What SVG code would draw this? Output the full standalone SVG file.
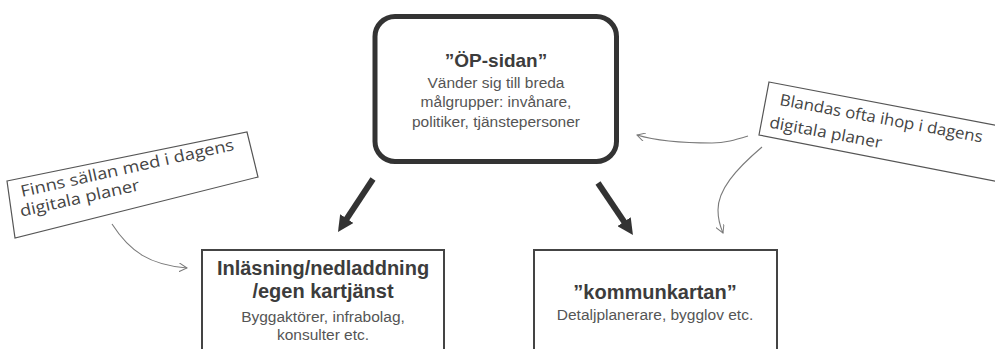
<svg xmlns="http://www.w3.org/2000/svg" width="995" height="349" viewBox="0 0 995 349">
<defs>
<style>
.box{fill:#fff;stroke:#444;stroke-width:2}
.main{fill:#fff;stroke:#333;stroke-width:5}
.note{fill:#fff;stroke:#555;stroke-width:1.2}
.t{font-family:"Liberation Sans",Arial,sans-serif;text-anchor:middle}
.title{font-weight:bold;fill:#3c3c3c}
.body{fill:#555}
.hand{font-family:"Open Sans","DejaVu Sans",sans-serif;font-size:16px;fill:#444}
.thick{stroke:#333;stroke-width:6;fill:none}
.thin{stroke:#7a7a7a;stroke-width:1.1;fill:none}
</style>
<marker id="bigHead" viewBox="0 0 16 16" markerWidth="16" markerHeight="16" markerUnits="userSpaceOnUse" refX="6" refY="8" orient="auto">
<path d="M0,0 L16,8 L0,16 z" fill="#333"/>
</marker>
<marker id="openHead" viewBox="0 0 10 10" markerWidth="9" markerHeight="9" markerUnits="userSpaceOnUse" refX="9" refY="5" orient="auto">
<path d="M0,0 L9,5 L0,10" fill="none" stroke="#7a7a7a" stroke-width="1.1"/>
</marker>
</defs>
<rect width="995" height="349" fill="#fff"/>

<g id="connectors">
<line class="thick" x1="373" y1="179" x2="343.5" y2="223.6" marker-end="url(#bigHead)"/>
<line class="thick" x1="598" y1="183" x2="627.4" y2="226.7" marker-end="url(#bigHead)"/>
<path class="thin" d="M112,224 C130,252 150,265 187,268" marker-end="url(#openHead)"/>
<path class="thin" d="M748,136 C735,140 725,143 712,143 C690,143 660,142 637,135" marker-end="url(#openHead)"/>
<path class="thin" d="M762,147 C735,170 718,190 718,210 C718,220 720,226 723,233" marker-end="url(#openHead)"/>
</g>

<g id="node-op">
<rect class="main" x="375" y="16.5" width="241.5" height="145" rx="20"/>
<text class="t title" x="496" y="67" font-size="19">”ÖP-sidan”</text>
<text class="t body" x="496" y="88" font-size="15.5">Vänder sig till breda</text>
<text class="t body" x="496" y="107" font-size="15.5">målgrupper: invånare,</text>
<text class="t body" x="496" y="127" font-size="15.5">politiker, tjänstepersoner</text>
</g>

<g id="node-inlasning">
<rect class="box" x="202" y="250" width="242" height="130"/>
<text class="t title" x="323" y="275" font-size="20">Inläsning/nedladdning</text>
<text class="t title" x="323" y="298" font-size="20">/egen kartjänst</text>
<text class="t body" x="323" y="322" font-size="15.5">Byggaktörer, infrabolag,</text>
<text class="t body" x="323" y="340" font-size="15.5">konsulter etc.</text>
</g>

<g id="node-kommunkartan">
<rect class="box" x="534" y="250" width="243" height="130"/>
<text class="t title" x="655" y="299" font-size="20">”kommunkartan”</text>
<text class="t body" x="655" y="320" font-size="15.5">Detaljplanerare, bygglov etc.</text>
</g>

<g id="note-left">
<polygon class="note" points="7,181 247,132 258,177 15,238"/>
<g transform="translate(22,197) rotate(-12.5)">
<text class="hand" x="0" y="0" textLength="218" lengthAdjust="spacingAndGlyphs">Finns sällan med i dagens</text>
<text class="hand" x="-5" y="19" textLength="122" lengthAdjust="spacingAndGlyphs">digitala planer</text>
</g>
</g>

<g id="note-right">
<polygon class="note" points="769,82 1010,128 1010,184 759,135"/>
<g transform="translate(779,105) rotate(10.5)">
<text class="hand" x="0" y="0" textLength="206" lengthAdjust="spacingAndGlyphs">Blandas ofta ihop i dagens</text>
<text class="hand" x="-6" y="24" textLength="114" lengthAdjust="spacingAndGlyphs">digitala planer</text>
</g>
</g>
</svg>
